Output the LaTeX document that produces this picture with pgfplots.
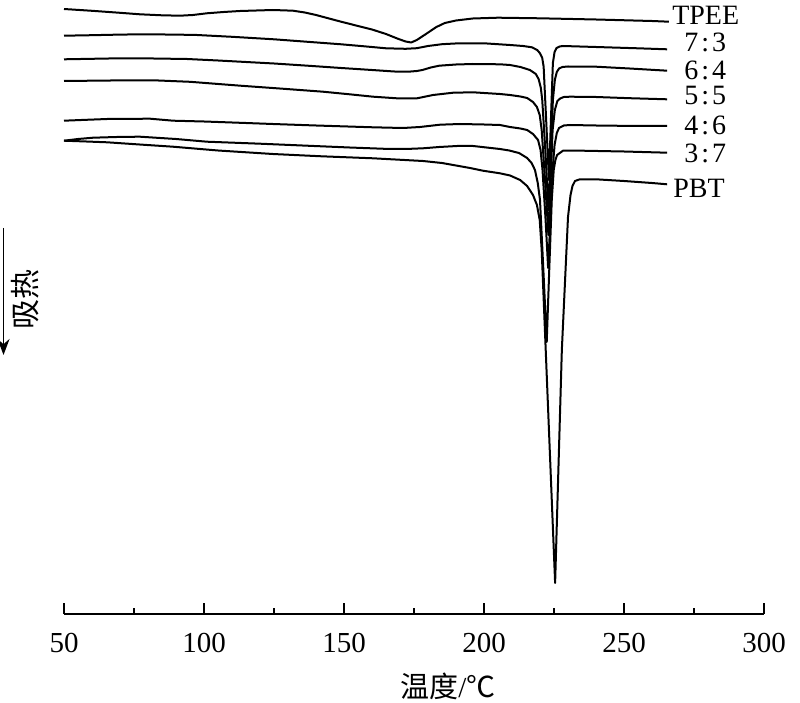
\documentclass[border=0pt]{standalone}
\usepackage{fontspec}
\setmainfont{Liberation Serif}
\newfontfamily\cjk{Noto Sans CJK SC}
\usepackage{pgfplots}
\pgfplotsset{compat=1.18}
\usetikzlibrary{arrows.meta}

\tikzset{
  dsc/.style={black, line width=1pt, line join=round, mark=none},
  lbl/.style={anchor=west, inner sep=0pt, font=\fontsize{14}{15}\selectfont},
}

\begin{document}
\begin{tikzpicture}
\begin{axis}[
  scale only axis,
  width=350pt, height=307pt,
  xmin=50, xmax=300, ymin=-614, ymax=0,
  axis x line*=bottom,
  hide y axis,
  axis line style={line width=0.8pt},
  xtick={50,100,...,300},
  minor x tick num=1,
  xtick align=inside,
  major tick length=5.5pt,
  minor tick length=3pt,
  every tick/.style={black, line width=0.8pt},
  xticklabel style={font=\fontsize{14.5}{17}\selectfont, yshift=-6pt},
  /pgf/number format/assume math mode=true,
  clip=false,
]
% TPEE
\addplot[dsc] coordinates {
(50,-9)(60,-10.8)(70,-12.8)(77.1,-14.3)(85,-15.3)(91.4,-15.7)(96,-15)(101,-13.3)
(107,-12)(112.9,-11)(124.6,-10)(131.8,-10.7)(136,-12.5)(140,-15)(148,-21)(155,-26)(160,-29.5)
(165,-34)(169,-38.5)(172,-41.5)(174,-42.5)(176,-40)(179,-34.5)(183,-27)(186,-23)
(190,-20.5)(196,-18.5)(205,-17.7)(220,-18.3)(240,-19.5)(260,-21)(266,-21.7)};
% 7:3
\addplot[dsc] coordinates {
(50,-35.7)(60,-35.2)(70,-34.6)(78,-34.3)(90,-34.6)(97.5,-35)(110,-36.8)(125,-39.3)
(137,-41.8)(149,-44.3)(158,-46.5)(165,-48.3)(172,-48.8)(176,-48.2)(180,-46)
(185,-44.2)(191,-43.3)(200,-43.3)(209.3,-45)(214,-46)(217.1,-47.3)(219,-50)
(220,-53.3)(220.8,-58)(221.3,-66.7)(222.2,-120)(223.2,-180)(223.9,-120)
(224.6,-63)(225.2,-52)(225.9,-48)(227,-46.5)(228.2,-46)(240,-47)(255,-48.3)(265.4,-49.3)};
% 6:4
\addplot[dsc] coordinates {
(50,-59.3)(60,-58.8)(70,-58.3)(82,-58.5)(94,-59)(105,-60.5)(113,-61.7)(125,-63.5)
(137,-65.7)(149,-68)(160,-70)(168,-71.5)(173,-71.7)(176,-71)(178,-70)(181,-67.5)
(184,-65.7)(190,-64.5)(196,-64)(205.7,-64.3)(209.3,-65)(213,-67)(216.4,-70)
(218.5,-74)(219.5,-79)(220.3,-88)(220.8,-100)(221.9,-150)(223,-210)(223.9,-150)
(224.6,-100)(225.3,-80)(226,-72)(226.8,-68.5)(228,-67)(230,-66.5)(240,-66.7)
(252,-68.5)(265.4,-70.7)};
% 5:5
\addplot[dsc] coordinates {
(50,-81)(60,-80.7)(70,-80.4)(82,-80.3)(95,-81.8)(113,-85.7)(128,-88.7)(142.5,-91.7)
(152,-94.3)(160.4,-96.7)(168.9,-98.3)(176.1,-98.3)(181.8,-95)(189,-92.7)(196.1,-92.3)
(205.7,-94)(209.3,-95)(213,-96.5)(215.4,-98)(217.5,-102)(218.9,-107)(219.9,-115)
(220.6,-130)(221.8,-180)(223,-235)(223.8,-180)(224.5,-130)(225.3,-110)(226.2,-101)
(227.2,-98.5)(228.5,-97)(230.7,-96.7)(240,-97)(252,-98.2)(265.4,-99.3)};
% 4:6
\addplot[dsc] coordinates {
(50,-120.7)(58,-119.8)(65.4,-119)(80.7,-118.7)(89,-120.7)(100,-121.5)(112,-122.7)
(124.6,-124)(140,-125.5)(160.4,-127.3)(171.1,-128)(177.1,-127)(184.3,-124.7)
(191.4,-124)(200,-124.5)(205.7,-125)(209.3,-127)(213,-128.5)(215.4,-130)
(217.5,-134)(219.3,-140)(220.2,-150)(220.9,-170)(222,-220)(222.9,-268)(223.7,-220)
(224.5,-170)(225.2,-145)(226,-133)(226.8,-128)(228.5,-125.5)(230.7,-125)(240,-125.5)
(255,-126)(265.4,-126)};
% 3:7
\addplot[dsc] coordinates {
(50,-140.7)(55,-139)(60.4,-137.7)(70,-136.9)(77.1,-136.7)(90,-139)(101,-141.7)
(120,-143.7)(136.8,-145.7)(152,-147.5)(166.4,-149)(172,-149)(178.2,-148.3)(184,-147)
(190.4,-146)(196.1,-146)(205.7,-149)(209,-150.5)(212.5,-153)(215.4,-158)(217,-163)
(218.2,-170)(219.2,-183)(220,-200)(221.2,-270)(222.4,-342)(223.3,-270)(224.2,-200)
(224.9,-170)(225.5,-160)(226.1,-155)(228.2,-150.7)(235,-150.7)(250,-151.5)(265.4,-152.7)};
% PBT
\addplot[dsc] coordinates {
(50,-140.7)(58,-141.5)(65.4,-142.3)(77,-144.5)(88.9,-146.7)(105,-150.5)(124.6,-154)
(142,-156.3)(160.4,-158.3)(178.2,-161)(185,-163)(190.4,-165.7)(195,-168)(199.6,-170.7)
(205.7,-173.3)(209.3,-175.5)(212.9,-180)(215.4,-186)(217.5,-195)(218.9,-205)
(219.9,-220)(220.6,-250)(225.4,-583)(227.8,-350)(230,-217)(230.9,-195)(231.6,-186)
(232.5,-181)(234,-179.5)(240,-179.3)(250,-181)(260,-183)(265.4,-184.3)};

% curve labels
\node[lbl] at (axis cs:267.1,-15) {TPEE};
\node[lbl] at (axis cs:271.4,-42) {7\kern1.5pt:\kern1.5pt3};
\node[lbl] at (axis cs:271.4,-70) {6\kern1.5pt:\kern1.5pt4};
\node[lbl] at (axis cs:271.4,-96) {5\kern1.5pt:\kern1.5pt5};
\node[lbl] at (axis cs:271.4,-125) {4\kern1.5pt:\kern1.5pt6};
\node[lbl] at (axis cs:271.4,-153) {3\kern1.5pt:\kern1.5pt7};
\node[lbl] at (axis cs:267.5,-188) {PBT};

% axis titles
\node[inner sep=0pt, font=\fontsize{14.5}{17}\selectfont] at (axis cs:187.1,-686)
  {{\cjk 温度}/{\cjk ℃}};
\node[inner sep=0pt, rotate=90, font=\fontsize{15}{17}\selectfont] at (axis cs:36.1,-300)
  {\cjk 吸热};
\draw[line width=0.9pt, -{Stealth[length=8pt,width=6pt]}]
  (axis cs:28.4,-228) -- (axis cs:28.4,-355);

\coordinate (bbA) at (axis cs:27.14,0);
\coordinate (bbB) at (axis cs:312.86,-703);
\end{axis}
\pgfresetboundingbox
\useasboundingbox (bbA) rectangle (bbB);
\end{tikzpicture}
\end{document}
